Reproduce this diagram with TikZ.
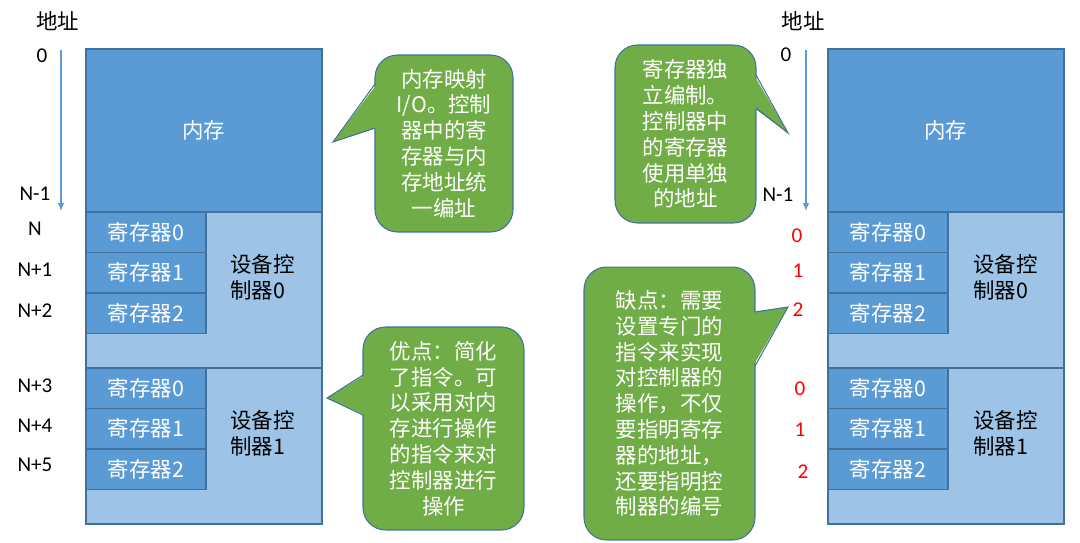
\documentclass[tikz,border=0pt]{standalone}
\usepackage{fontspec}
\setmainfont{Carlito}
\newfontfamily\cjk{Noto Sans CJK SC}
\usetikzlibrary{arrows.meta,positioning}
\definecolor{memblue}{RGB}{91,155,213}
\definecolor{ctrlblue}{RGB}{157,195,230}
\definecolor{edgeblue}{RGB}{65,113,156}
\definecolor{notegreen}{RGB}{112,173,71}
\tikzset{
  zh/.style={font=\cjk\fontsize{12.2}{14.7}\selectfont},
  membox/.style={rectangle,fill=memblue,draw=edgeblue,line width=1pt,outer sep=0pt,
    minimum width=4.72cm,minimum height=3.26cm,text=white,zh},
  ctrlbox/.style={rectangle,fill=ctrlblue,draw=edgeblue,line width=1pt,outer sep=0pt,
    minimum width=4.72cm,minimum height=3.12cm},
  regbox/.style={rectangle,fill=memblue,draw=edgeblue,line width=1pt,outer sep=0pt,
    minimum width=2.4cm,minimum height=0.81cm,inner sep=0pt,text=white,zh},
  ctrllab/.style={zh,align=left,inner sep=0pt,text=black},
  addr/.style={font=\fontsize{12}{14}\selectfont,inner sep=0pt},
  regno/.style={addr,text=red},
  addrarr/.style={-{Latex[length=1.6mm,width=1.3mm]},draw=memblue,line width=0.6pt},
  % speech bubbles: body is a node, the wedge is drawn over its border
  note/.style={rectangle,rounded corners=0.45cm,fill=notegreen,draw=edgeblue,
    line width=0.6pt,zh,text=white,align=center,inner sep=2pt},
  wedge/.style={fill=notegreen,draw=none},
  wedgeline/.style={draw=edgeblue,line width=0.6pt,line join=miter}
}

\begin{document}
\begin{tikzpicture}[x=0.02cm,y=-0.02cm]
  \useasboundingbox (0,0) rectangle (1080,542);

  % left: memory-mapped I/O
  \node[membox,anchor=north west] (lmem) at (86,49) {内存};
  \node[ctrlbox,below=0pt of lmem] (lctrl0) {};
  \node[ctrlbox,below=0pt of lctrl0] (lctrl1) {};
  \node[regbox,anchor=north west] (lreg00) at (lctrl0.north west) {寄存器0};
  \node[regbox,below=0pt of lreg00] (lreg01) {寄存器1};
  \node[regbox,below=0pt of lreg01] (lreg02) {寄存器2};
  \node[regbox,anchor=north west] (lreg10) at (lctrl1.north west) {寄存器0};
  \node[regbox,below=0pt of lreg10] (lreg11) {寄存器1};
  \node[regbox,below=0pt of lreg11] (lreg12) {寄存器2};
  \node[ctrllab,right=0.48cm of lreg01,yshift=-0.09cm] (lname0) {设备控\\制器0};
  \node[ctrllab,right=0.48cm of lreg11,yshift=-0.09cm] (lname1) {设备控\\制器1};

  \node[zh,inner sep=0pt] (laddr) at (58,21) {地址};
  \node[addr] (la0) at (42,56) {0};
  \node[addr] (laN1) at (35,194) {N-1};
  \node[addr] (laN) at (35,229) {N};
  \node[addr] (laN2) at (35,270) {N+1};
  \node[addr] (laN3) at (35,311) {N+2};
  \node[addr] (laN4) at (35,386) {N+3};
  \node[addr] (laN5) at (35,426) {N+4};
  \node[addr] (laN6) at (35,465) {N+5};
  \coordinate (ltop) at (61,50);
  \coordinate (lbot) at (61,211);
  \draw[addrarr] (ltop) -- (lbot);

  % right: separate register numbering
  \node[membox,anchor=north west] (rmem) at (828,49) {内存};
  \node[ctrlbox,below=0pt of rmem] (rctrl0) {};
  \node[ctrlbox,below=0pt of rctrl0] (rctrl1) {};
  \node[regbox,anchor=north west] (rreg00) at (rctrl0.north west) {寄存器0};
  \node[regbox,below=0pt of rreg00] (rreg01) {寄存器1};
  \node[regbox,below=0pt of rreg01] (rreg02) {寄存器2};
  \node[regbox,anchor=north west] (rreg10) at (rctrl1.north west) {寄存器0};
  \node[regbox,below=0pt of rreg10] (rreg11) {寄存器1};
  \node[regbox,below=0pt of rreg11] (rreg12) {寄存器2};
  \node[ctrllab,right=0.5cm of rreg01,yshift=-0.09cm] (rname0) {设备控\\制器0};
  \node[ctrllab,right=0.5cm of rreg11,yshift=-0.09cm] (rname1) {设备控\\制器1};

  \node[zh,inner sep=0pt] (raddr) at (803,21) {地址};
  \node[addr] (ra0) at (786,55) {0};
  \node[addr] (raN1) at (778,195) {N-1};
  \node[regno] (rn00) at (797,236) {0};
  \node[regno] (rn01) at (798,271) {1};
  \node[regno] (rn02) at (798,310) {2};
  \node[regno] (rn10) at (800,389) {0};
  \node[regno] (rn11) at (800,430) {1};
  \node[regno] (rn12) at (803,472) {2};
  \coordinate (rtop) at (806,50);
  \coordinate (rbot) at (806,211);
  \draw[addrarr] (rtop) -- (rbot);

  % bubbles
  \node[note,minimum width=2.76cm,minimum height=3.54cm] (memio) at (444,143.5)
    {内存映射\\I/O。控制\\器中的寄\\存器与内\\存地址统\\一编址};
  \coordinate (memiotip) at (333,142);
  \coordinate (memioa) at (375,84);
  \coordinate (memiob) at (375,128);
  \fill[wedge] (377,84) -- (memiotip) -- (377,128) -- cycle;
  \draw[wedgeline] (memioa) -- (memiotip) -- (memiob);

  \node[note,minimum width=3.22cm,minimum height=4.06cm] (pro) at (443.5,428.5)
    {优点：简化\\了指令。可\\以采用对内\\存进行操作\\的指令来对\\控制器进行\\操作};
  \coordinate (protip) at (327,398);
  \coordinate (proa) at (363,375);
  \coordinate (prob) at (363,415);
  \fill[wedge] (365,375) -- (protip) -- (365,415) -- cycle;
  \draw[wedgeline] (proa) -- (protip) -- (prob);

  \node[note,minimum width=2.82cm,minimum height=3.56cm] (sepio) at (685.5,134)
    {寄存器独\\立编制。\\控制器中\\的寄存器\\使用单独\\的地址};
  \coordinate (sepiotip) at (788,133);
  \coordinate (sepioa) at (756,75);
  \coordinate (sepiob) at (756,108);
  \fill[wedge] (754,75) -- (sepiotip) -- (754,108) -- cycle;
  \draw[wedgeline] (sepioa) -- (sepiotip) -- (sepiob);

  \node[note,minimum width=3.42cm,minimum height=5.46cm] (con) at (669.5,403.5)
    {缺点：需要\\设置专门的\\指令来实现\\对控制器的\\操作，不仅\\要指明寄存\\器的地址，\\还要指明控\\制器的编号};
  \coordinate (contip) at (788,307);
  \coordinate (cona) at (755,312);
  \coordinate (conb) at (755,366);
  \fill[wedge] (753,312) -- (contip) -- (753,366) -- cycle;
  \draw[wedgeline] (cona) -- (contip) -- (conb);
\end{tikzpicture}
\end{document}
